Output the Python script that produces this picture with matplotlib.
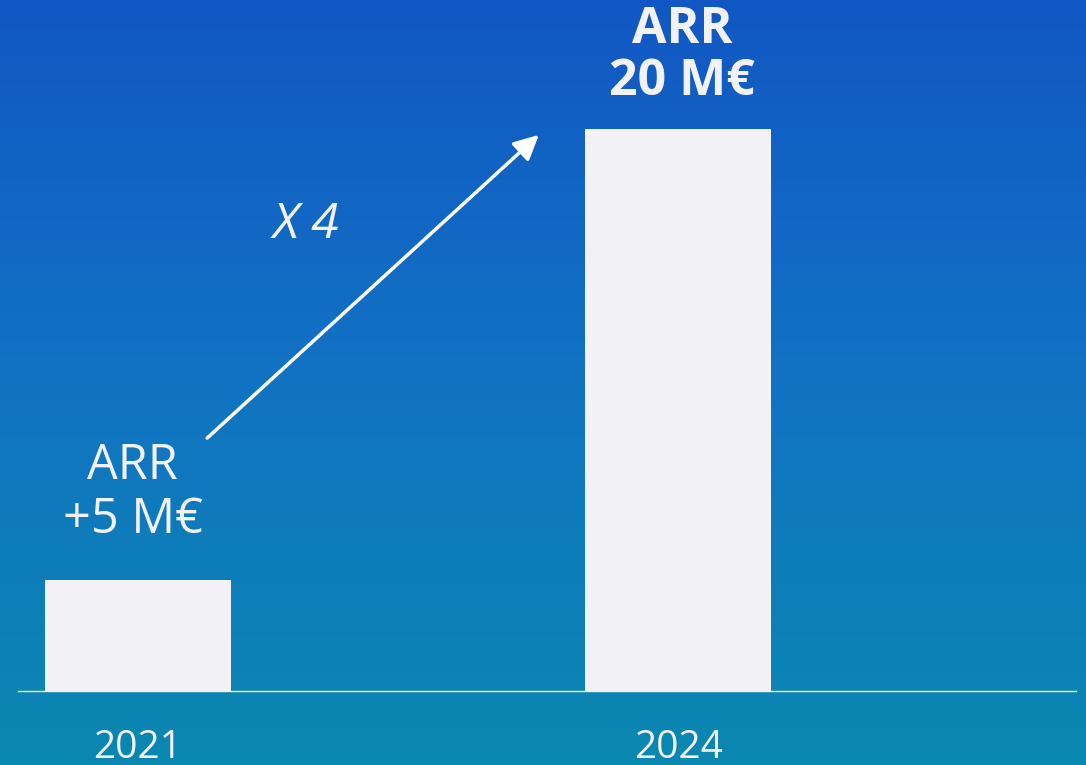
import numpy as np
import matplotlib.pyplot as plt
from matplotlib.colors import LinearSegmentedColormap

# données
years = ['2021', '2024']
heights = [3.95, 20.0]          # hauteur des barres (M€)
labels = ['ARR\n+5 M€', 'ARR\n20 M€']
growth = 'X 4'

white = '#f2f1f6'
plt.rcParams['font.family'] = ['Open Sans', 'DejaVu Sans']

fig = plt.figure(figsize=(10.86, 7.65), dpi=100)

# fond dégradé bleu -> turquoise
bg = fig.add_axes([0, 0, 1, 1], zorder=-1)
cmap = LinearSegmentedColormap.from_list('bg', ['#1257c4', '#1173c3', '#0a88b0'])
grad = np.linspace(0, 1, 256).reshape(-1, 1)
bg.imshow(grad, aspect='auto', cmap=cmap, extent=[0, 1, 0, 1])
bg.axis('off')

ax = fig.add_axes([18 / 1086, 1 - 691 / 765, 1058 / 1086, 691 / 765])
ax.patch.set_alpha(0)
x = np.arange(len(years))
ax.bar(x, heights, width=0.344, color=white, zorder=3)
ax.set_xlim(-0.222, 1.736)
ax.set_ylim(0, 24.59)

for s in ['top', 'right', 'left']:
    ax.spines[s].set_visible(False)
ax.spines['bottom'].set_color(white)
ax.spines['bottom'].set_linewidth(1)
ax.set_yticks([])
ax.set_xticks(x, years)
ax.tick_params(axis='x', length=0, pad=27, labelsize=28, labelcolor=white)

# étiquettes
ax.text(x[0] - 0.01, heights[0] + 1.25, labels[0], ha='center', va='bottom',
        fontsize=35, color=white, linespacing=1.12)
ax.text(x[1] + 0.007, heights[1] + 0.8, labels[1], ha='center', va='bottom',
        fontsize=36, color=white, fontweight='bold', linespacing=1.05)

# flèche de croissance
ax.annotate('', xy=(0.742, 19.79), xytext=(0.128, 9.0),
            arrowprops=dict(arrowstyle='-|>,head_length=1.0,head_width=0.5',
                            mutation_scale=15, color='white', lw=2.5,
                            shrinkA=0, shrinkB=0))
ax.text(0.311, 16.58, growth, ha='center', va='center', fontsize=36,
        color=white, style='italic')

fig.savefig('out.png', dpi=100)
